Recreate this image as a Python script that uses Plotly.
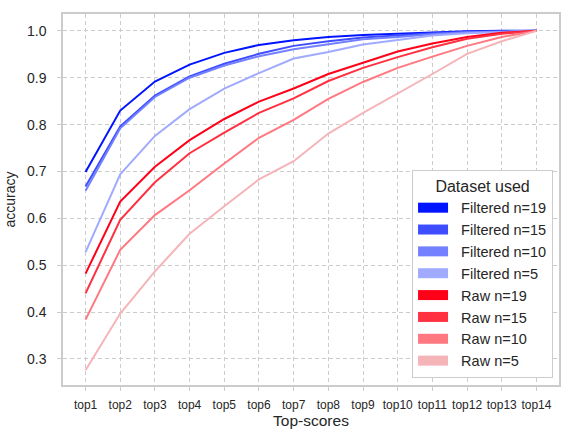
import plotly.graph_objects as go

categories = ["top1", "top2", "top3", "top4", "top5", "top6", "top7",
              "top8", "top9", "top10", "top11", "top12", "top13", "top14"]

filtered_n19 = [0.699, 0.830, 0.892, 0.928, 0.953, 0.970, 0.980, 0.987, 0.991, 0.994, 0.997, 0.999, 1.000, 1.000]
filtered_n15 = [0.668, 0.796, 0.862, 0.903, 0.930, 0.951, 0.968, 0.978, 0.986, 0.991, 0.995, 0.998, 0.999, 1.000]
filtered_n10 = [0.659, 0.792, 0.859, 0.900, 0.926, 0.946, 0.961, 0.972, 0.982, 0.987, 0.993, 0.997, 0.999, 1.000]
filtered_n5 = [0.528, 0.694, 0.776, 0.833, 0.877, 0.910, 0.941, 0.955, 0.971, 0.981, 0.990, 0.995, 0.998, 1.000]
raw_n19 = [0.482, 0.636, 0.710, 0.767, 0.812, 0.849, 0.877, 0.908, 0.932, 0.956, 0.973, 0.987, 0.996, 1.000]
raw_n15 = [0.440, 0.597, 0.677, 0.739, 0.783, 0.825, 0.856, 0.893, 0.921, 0.944, 0.965, 0.983, 0.994, 1.000]
raw_n10 = [0.384, 0.533, 0.607, 0.660, 0.717, 0.772, 0.810, 0.855, 0.891, 0.921, 0.945, 0.968, 0.987, 1.000]
raw_n5 = [0.276, 0.397, 0.487, 0.567, 0.626, 0.683, 0.722, 0.781, 0.825, 0.866, 0.908, 0.951, 0.978, 1.000]

series_names = ["Filtered n=19", "Filtered n=15", "Filtered n=10", "Filtered n=5",
                "Raw n=19", "Raw n=15", "Raw n=10", "Raw n=5"]
series_values = [filtered_n19, filtered_n15, filtered_n10, filtered_n5,
                 raw_n19, raw_n15, raw_n10, raw_n5]
series_colors = ["rgb(0,20,255)", "rgb(62,78,255)", "rgb(115,128,255)", "rgb(160,170,255)",
                 "rgb(255,0,25)", "rgb(255,48,64)", "rgb(255,120,128)", "rgb(245,180,184)"]

FONT = "Liberation Sans, Arial, sans-serif"
TXT = "#262626"
GRID = "#cccccc"

fig = go.Figure()
for name, vals, col in zip(series_names, series_values, series_colors):
    fig.add_trace(go.Scatter(x=categories, y=vals, mode="lines", name=name,
                             line=dict(color=col, width=2), showlegend=False))
# legend swatches (thick bars)
for name, col in zip(series_names, series_colors):
    fig.add_trace(go.Scatter(x=[None], y=[None], mode="lines", name="\u00a0\u00a0" + name,
                             line=dict(color=col, width=10), showlegend=True))

fig.update_layout(
    width=561, height=430,
    margin=dict(l=63, r=0, t=14, b=45),
    paper_bgcolor="white", plot_bgcolor="white",
    font=dict(family=FONT, color=TXT),
    legend=dict(
        x=0.988, y=0.019, xanchor="right", yanchor="bottom",
        bgcolor="white", bordercolor=GRID, borderwidth=1,
        font=dict(size=14.5, color=TXT),
        title=dict(text="Dataset used", side="top center", font=dict(size=16, color=TXT)),
        traceorder="normal",
    ),
)
fig.update_xaxes(
    type="category", range=[-0.65, 13.65],
    showgrid=True, gridcolor=GRID, griddash="4px,3px", gridwidth=1,
    showline=True, mirror=True, linecolor=GRID, linewidth=1.5,
    ticks="outside", ticklen=4, tickcolor=GRID, ticklabelstandoff=4,
    tickfont=dict(size=12, color=TXT),
    title=dict(text="Top-scores", font=dict(size=15.5, color=TXT), standoff=4),
    zeroline=False,
)
fig.update_yaxes(
    range=[0.2445, 1.036],
    tickvals=[0.3, 0.4, 0.5, 0.6, 0.7, 0.8, 0.9, 1.0],
    ticktext=["0.3", "0.4", "0.5", "0.6", "0.7", "0.8", "0.9", "1.0"],
    showgrid=True, gridcolor=GRID, griddash="4px,3px", gridwidth=1,
    showline=True, mirror=True, linecolor=GRID, linewidth=1.5,
    ticks="outside", ticklen=4, tickcolor=GRID, ticklabelstandoff=8,
    tickfont=dict(size=14, color=TXT),
    title=dict(text="accuracy", font=dict(size=14, color=TXT), standoff=8),
    zeroline=False,
)

fig.write_html("out.html")
